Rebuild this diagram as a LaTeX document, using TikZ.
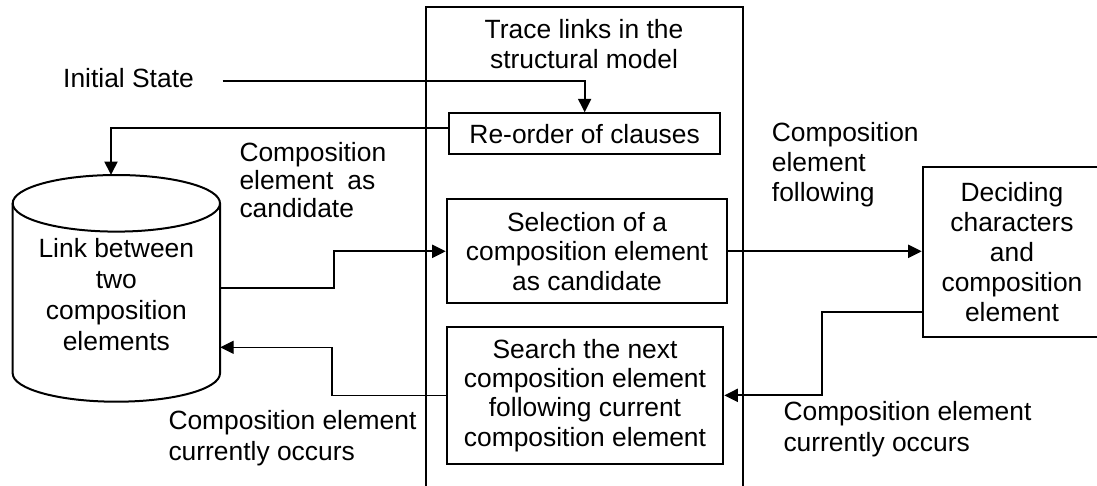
\documentclass[tikz,border=0pt]{standalone}
\usepackage{fontspec}
\setmainfont{Liberation Sans}
\usetikzlibrary{arrows.meta,calc}
\begin{document}
\begin{tikzpicture}[x=1pt,y=-1pt,
  every node/.style={font=\fontsize{26.4}{30}\selectfont, inner sep=0pt},
  ln/.style={line width=2pt},
  box/.style={draw, line width=2pt, align=center},
  arr/.style={line width=2pt, -{Triangle[length=13.5pt,width=13pt]}},
  thinarr/.style={line width=1.3pt, -{Triangle[length=13.5pt,width=13pt]}},
  lbl/.style={align=left, anchor=north west}
]
\useasboundingbox (0,0) rectangle (1097,485);

% container of the middle column
\draw[ln] (426,486) -- (426,7) -- (743.3,7) -- (743.3,486);
\node[align=center] (title) at (584,43.7) {Trace links in the\\structural model};

% boxes
\node[box, minimum width=270.7, minimum height=40.7] (reorder) at (584.65,133.65) {Re-order of clauses};
\node[box, minimum width=280.6, minimum height=104, font=\fontsize{26.4}{29.5}\selectfont] (select) at (587,251.3) {Selection of a\\composition element\\as candidate};
\node[box, minimum width=276.6, minimum height=137.3, font=\fontsize{26.4}{29.4}\selectfont] (search) at (585,395.35) {Search the next\\composition element\\following current\\composition element};
\node[box, minimum width=178.6, minimum height=170.6] (decide) at (1012,252) {Deciding\\characters\\and\\composition\\element};

% cylinder (database)
\draw[ln] (116.35,203.3) ellipse [x radius=103.65, y radius=28.3];
\draw[ln] (12.7,203.3) -- (12.7,373.4)
  .. controls (12.7,389.0) and (59.1,401.7) .. (116.35,401.7)
  .. controls (173.6,401.7) and (220,389.0) .. (220,373.4) -- (220,203.3);
\coordinate (dbtop) at (111,175);
\node[align=center, minimum width=207.3, font=\fontsize{26.4}{31}\selectfont] (db) at (116.35,294.9) {Link between\\two\\composition\\elements};

% labels
\node[anchor=base west] (init) at (63,87) {Initial State};
\node[lbl, font=\fontsize{26.4}{28}\selectfont] (cand) at (239.3,141.7) {Composition\\element\hspace{14pt}as\\candidate};
\node[lbl, font=\fontsize{26.4}{30}\selectfont] (follow) at (771.7,122.4) {Composition\\element\\following};
\node[lbl, font=\fontsize{26.4}{31.7}\selectfont] (occR) at (783.3,400.7) {Composition element\\currently occurs};
\node[lbl, font=\fontsize{26.4}{31.5}\selectfont] (occL) at (168.3,409.7) {Composition element\\currently occurs};

% connectors
\coordinate (s1) at (222.7,80.5);
\draw[arr] (s1) -| (reorder.north);
\draw[arr] ([yshift=6.15pt]reorder.west) -| (dbtop);
\draw[arr] ([yshift=6.6pt]db.east) -- ++(113.3,0) |- (select.west);
\draw[thinarr] (search.west) -- ++(-113.7,0) |- ([yshift=-52.4pt]db.east);
\draw[arr] (select.east) -- (select.east -| decide.west);
\draw[arr] ([yshift=-59.7pt]decide.west) -- ++(-100,0) |- (search.east);
\end{tikzpicture}
\end{document}
